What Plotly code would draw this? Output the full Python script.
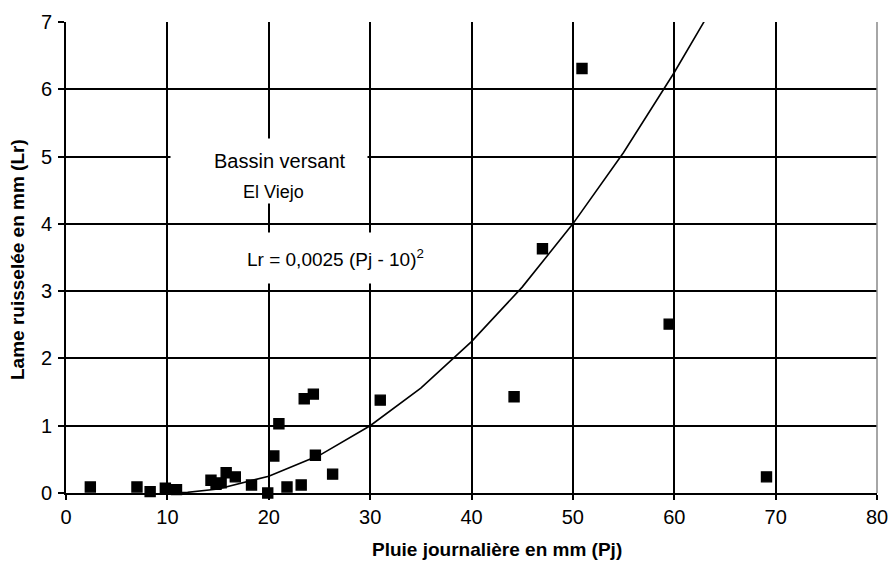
import plotly.graph_objects as go

# Observed points: daily rainfall Pj (mm) vs runoff depth Lr (mm)
pj = [2.4, 7.0, 8.3, 9.8, 10.9, 14.3, 14.8, 15.3, 15.8, 16.7, 18.3, 19.9, 20.5, 21.0,
      21.8, 23.2, 23.5, 24.4, 24.6, 26.3, 31.0, 44.2, 47.0, 50.9, 59.5, 69.1]
lr = [0.09, 0.09, 0.02, 0.07, 0.05, 0.19, 0.13, 0.15, 0.30, 0.24, 0.12, 0.0, 0.55, 1.03,
      0.09, 0.12, 1.40, 1.47, 0.56, 0.28, 1.38, 1.43, 3.63, 6.31, 2.51, 0.24]

# Fitted curve
curve_pj = [10, 12, 15, 20, 25, 30, 35, 40, 45, 50, 55, 60, 63]
curve_lr = [0.0, 0.01, 0.06, 0.25, 0.56, 1.0, 1.56, 2.25, 3.06, 4.0, 5.06, 6.25, 7.02]

x_ticks = [0, 10, 20, 30, 40, 50, 60, 70, 80]
y_ticks = [0, 1, 2, 3, 4, 5, 6, 7]

FONT = "Liberation Sans, Arial, sans-serif"

fig = go.Figure()
fig.add_trace(go.Scatter(x=curve_pj, y=curve_lr, mode="lines",
                         line=dict(color="black", width=1.6), hoverinfo="skip",
                         showlegend=False))
fig.add_trace(go.Scatter(x=pj, y=lr, mode="markers",
                         marker=dict(symbol="square", size=10, color="black",
                                     line=dict(color="black", width=1.4)),
                         showlegend=False, cliponaxis=False))

fig.update_layout(
    width=890, height=563,
    margin=dict(l=66, r=13, t=22, b=70, autoexpand=False),
    paper_bgcolor="white", plot_bgcolor="white",
    font=dict(family=FONT, size=20, color="black"),
    xaxis=dict(range=[0, 80], tickvals=x_ticks, showgrid=True, gridcolor="black",
               gridwidth=2, zeroline=False, showline=True, linecolor="black",
               linewidth=2, ticks="outside", ticklen=5, tickwidth=2, tickcolor="black",
               automargin=False, tickfont=dict(size=20)),
    yaxis=dict(range=[0, 7], tickvals=y_ticks, showgrid=True, gridcolor="black",
               gridwidth=2, zeroline=False, showline=True, linecolor="black",
               linewidth=2, ticks="outside", ticklen=6, tickwidth=2, tickcolor="black",
               automargin=False, ticklabelstandoff=2, tickfont=dict(size=20)),
    shapes=[
        dict(type="line", xref="paper", yref="paper", x0=1, x1=1, y0=0, y1=1,
             line=dict(color="#888888", width=1.5)),
    ],
    annotations=[
        # white backing boxes that interrupt the grid behind the texts
        dict(text=" ", x=20.0, y=4.79, xref="x", yref="y", showarrow=False,
             bgcolor="white", width=194, height=62),
        dict(text=" ", x=26.5, y=3.5, xref="x", yref="y", showarrow=False,
             bgcolor="white", width=196, height=48),
        dict(text="Bassin versant", x=21.1, y=4.94, xref="x", yref="y",
             showarrow=False, font=dict(size=20)),
        dict(text="El Viejo", x=20.5, y=4.48, xref="x", yref="y",
             showarrow=False, font=dict(size=18)),
        dict(text="Lr = 0,0025 (Pj - 10)<sup>2</sup>",
             x=26.6, y=3.5, xref="x", yref="y", showarrow=False,
             font=dict(size=19)),
        dict(text="<b>Pluie journalière en mm (Pj)</b>", x=0.531, y=-0.121,
             xref="paper", yref="paper", showarrow=False, yanchor="middle",
             font=dict(size=19)),
        dict(text="<b>Lame ruisselée en mm (Lr)</b>", x=-0.059, y=0.495,
             xref="paper", yref="paper", showarrow=False, textangle=-90,
             xanchor="center", yanchor="middle", font=dict(size=19)),
    ],
)

fig.write_html(
    "out.html",
    config={"displayModeBar": False},
    post_script="document.body.style.margin='0';document.body.style.overflow='hidden';",
)
